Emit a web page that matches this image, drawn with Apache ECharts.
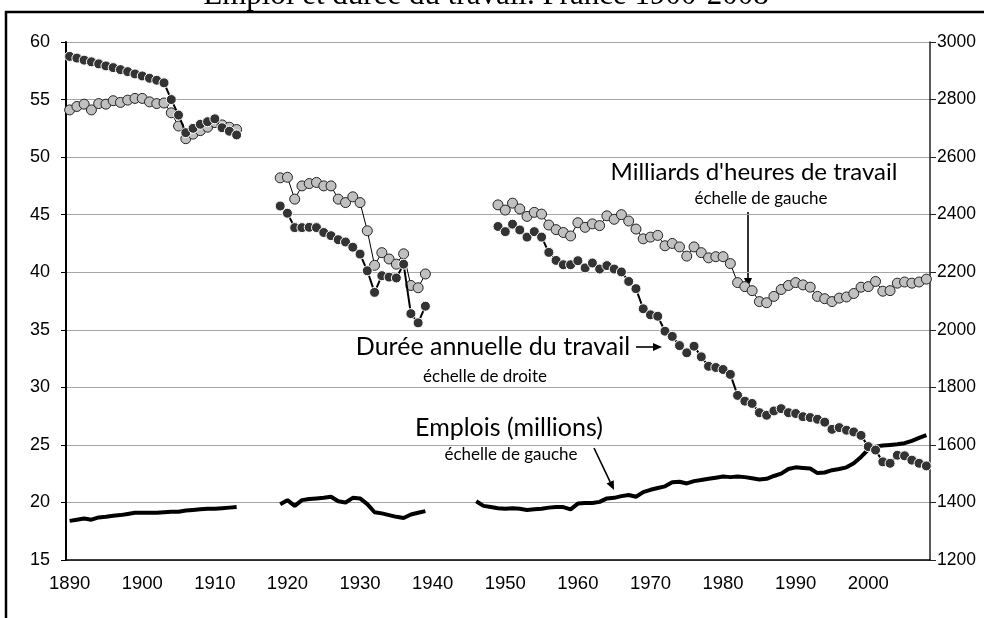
<!DOCTYPE html>
<html>
<head>
<meta charset="utf-8">
<script src="https://cdn.jsdelivr.net/npm/echarts@6/dist/echarts.min.js"></script>
<style>
  html, body { margin: 0; padding: 0; background: #fff; }
  #chart { width: 984px; height: 618px; }
</style>
</head>
<body>
<div id="chart"></div>
<script>
// années 1890-2008 (axe des catégories)
const firstYear = 1890
const lastYear = 2008

// Milliards d'heures de travail (échelle de gauche)
const heures1890 = [54.1, 54.4, 54.6, 54.1, 54.65, 54.6, 54.9, 54.75, 54.95, 55.1, 55.1, 54.8, 54.65, 54.7,
  53.85, 52.7, 51.6, 52.0, 52.3, 52.6, 53.0, 52.8, 52.6, 52.4]
const heures1919 = [48.2, 48.25, 46.35, 47.5, 47.7, 47.8, 47.5, 47.5, 46.35, 46.05, 46.55, 46.05, 43.6,
  40.6, 41.7, 41.15, 40.7, 41.6, 38.85, 38.65, 39.85]
const heures1949 = [45.85, 45.4, 46.0, 45.5, 44.85, 45.2, 45.05, 44.1, 43.7, 43.45,
  43.15, 44.3, 43.9, 44.2, 44.05, 44.9, 44.6, 45.0, 44.45, 43.75,
  42.9, 43.05, 43.2, 42.3, 42.5, 42.2, 41.4, 42.2, 41.7, 41.25,
  41.35, 41.35, 40.75, 39.1, 38.75, 38.4, 37.45, 37.35, 37.9, 38.5,
  38.85, 39.1, 38.9, 38.7, 37.9, 37.7, 37.45, 37.75, 37.85, 38.15,
  38.7, 38.75, 39.2, 38.35, 38.4, 39.05, 39.15, 39.05, 39.15, 39.4]

// Durée annuelle du travail, heures (échelle de droite)
const duree1890 = [2950, 2944, 2937, 2931, 2924, 2917, 2911, 2904, 2897, 2889, 2882, 2874, 2867, 2858,
  2800, 2746, 2685, 2700, 2714, 2723, 2733, 2702, 2690, 2677]
const duree1919 = [2430, 2405, 2355, 2355, 2356, 2355, 2338, 2327, 2313, 2305, 2287, 2263, 2205,
  2130, 2188, 2183, 2180, 2228, 2056, 2024, 2082]
const duree1949 = [2359, 2341, 2367, 2347, 2322, 2341, 2322, 2269, 2241, 2226,
  2226, 2240, 2215, 2232, 2211, 2223, 2211, 2201, 2168, 2143,
  2073, 2052, 2047, 1995, 1977, 1945, 1920, 1943, 1906, 1873,
  1869, 1862, 1845, 1772, 1752, 1744, 1712, 1703, 1718, 1726,
  1712, 1709, 1698, 1695, 1689, 1679, 1654, 1660, 1651, 1645,
  1633, 1594, 1582, 1541, 1536, 1564, 1562, 1547, 1536, 1527]

// Emplois, millions (échelle de gauche)
const emplois1890 = [18.4, 18.5, 18.6, 18.5, 18.7, 18.75, 18.85, 18.9, 19.0, 19.1, 19.1, 19.1, 19.1,
  19.15, 19.2, 19.2, 19.3, 19.35, 19.4, 19.45, 19.45, 19.5, 19.55, 19.6]
const emplois1919 = [19.85, 20.2, 19.7, 20.2, 20.3, 20.35, 20.4, 20.5, 20.1, 20.0, 20.4, 20.35, 19.85,
  19.15, 19.05, 18.9, 18.75, 18.65, 18.95, 19.1, 19.25]
const emplois1946 = [20.1, 19.7, 19.6, 19.5, 19.45, 19.5, 19.45, 19.35, 19.4, 19.45,
  19.55, 19.6, 19.6, 19.4, 19.9, 19.95, 19.95, 20.05, 20.35, 20.4,
  20.55, 20.65, 20.5, 20.9, 21.1, 21.25, 21.4, 21.75, 21.8, 21.65,
  21.85, 21.95, 22.05, 22.15, 22.25, 22.2, 22.25, 22.2, 22.1, 22.0,
  22.05, 22.3, 22.5, 22.9, 23.05, 23.0, 22.95, 22.55, 22.6, 22.8,
  22.9, 23.05, 23.4, 23.95, 24.6, 24.85, 24.95, 25.0, 25.05, 25.15,
  25.35, 25.6, 25.85]

const years = []
for (let y = firstYear; y <= lastYear; y++) years.push(String(y))

// place les périodes sur l'axe complet, null = trou (guerres)
const buildSeries = (pieces) => {
  const out = years.map(() => null)
  pieces.forEach(([start, values]) => {
    values.forEach((v, i) => { out[start - firstYear + i] = v })
  })
  return out
}

const heures = buildSeries([[1890, heures1890], [1919, heures1919], [1949, heures1949]])
const duree = buildSeries([[1890, duree1890], [1919, duree1919], [1949, duree1949]])
const emplois = buildSeries([[1890, emplois1890], [1919, emplois1919], [1946, emplois1946]])

const axisFont = 'Liberation Sans, Arial, sans-serif'
const noteFont = 'Lato, Calibri, sans-serif'

const label = (text, x, y, size) => ({
  type: 'text',
  x: x,
  y: y,
  silent: true,
  style: { text: text, font: size + 'px ' + noteFont, fill: '#000', textAlign: 'center', textVerticalAlign: 'middle' }
})

const arrow = (x1, y1, x2, y2) => {
  const a = Math.atan2(y2 - y1, x2 - x1)
  const len = 9
  const w = 4
  const bx = x2 - len * Math.cos(a)
  const by = y2 - len * Math.sin(a)
  return [
    { type: 'line', silent: true, shape: { x1: x1, y1: y1, x2: bx, y2: by }, style: { stroke: '#000', lineWidth: 1.6 } },
    {
      type: 'polygon',
      silent: true,
      shape: {
        points: [[x2, y2], [bx + w * Math.sin(a), by - w * Math.cos(a)], [bx - w * Math.sin(a), by + w * Math.cos(a)]]
      },
      style: { fill: '#000' }
    }
  ]
}

const chart = echarts.init(document.getElementById('chart'))

const option = {
  animation: false,
  grid: { left: 66, right: 54, top: 42, bottom: 58 },
  xAxis: {
    type: 'category',
    data: years,
    boundaryGap: true,
    axisLine: { lineStyle: { color: '#000', width: 1.5 } },
    axisTick: { interval: 4, length: 6, lineStyle: { color: '#000', width: 1 } },
    axisLabel: { interval: 9, color: '#000', fontSize: 18.5, fontFamily: axisFont, margin: 14 },
    splitLine: { show: false }
  },
  yAxis: [
    {
      type: 'value',
      min: 15,
      max: 60,
      interval: 5,
      axisLine: { show: true, lineStyle: { color: '#000', width: 2 } },
      axisTick: { show: true, length: 5, lineStyle: { color: '#000' } },
      axisLabel: { color: '#000', fontSize: 18, fontFamily: axisFont, margin: 16 },
      splitLine: { show: true, lineStyle: { color: '#a6a6a6', width: 1 } }
    },
    {
      type: 'value',
      position: 'right',
      min: 1200,
      max: 3000,
      interval: 200,
      axisLine: { show: true, lineStyle: { color: '#222', width: 1.5 } },
      axisTick: { show: true, length: 6, lineStyle: { color: '#222' } },
      axisLabel: { color: '#000', fontSize: 17.5, fontFamily: axisFont, margin: 7, formatter: (v) => String(v) },
      splitLine: { show: false }
    }
  ],
  series: [
    {
      name: 'Emplois (millions)',
      type: 'line',
      yAxisIndex: 0,
      data: emplois,
      showSymbol: false,
      connectNulls: false,
      lineStyle: { color: '#000', width: 4 },
      z: 2
    },
    {
      name: "Milliards d'heures de travail",
      type: 'line',
      yAxisIndex: 0,
      data: heures,
      symbol: 'circle',
      symbolSize: 10,
      showAllSymbol: true,
      connectNulls: false,
      itemStyle: { color: '#c0c0c0', borderColor: '#222', borderWidth: 1 },
      lineStyle: { color: '#000', width: 1 },
      z: 3
    },
    {
      name: 'Durée annuelle du travail',
      type: 'line',
      yAxisIndex: 1,
      data: duree,
      symbol: 'circle',
      symbolSize: 10,
      showAllSymbol: true,
      connectNulls: false,
      itemStyle: { color: '#333333', borderColor: '#ffffff', borderWidth: 1 },
      lineStyle: { color: '#000', width: 2 },
      z: 4
    }
  ],
  graphic: [
    {
      type: 'rect',
      silent: true,
      shape: { x: 6, y: 12, width: 1000, height: 700 },
      style: { fill: null, stroke: '#000', lineWidth: 2.5 }
    },
    {
      type: 'text',
      x: 486,
      y: -4,
      silent: true,
      style: {
        text: 'Emploi et durée du travail. France 1900-2008',
        font: '31px "Liberation Serif", "Times New Roman", serif',
        fill: '#000',
        textAlign: 'center',
        textVerticalAlign: 'middle'
      }
    },
    label("Milliards d'heures de travail", 754, 172, 24),
    label('échelle de gauche', 761, 199, 17),
    ...arrow(748, 212, 748, 287),
    label('Durée annuelle du travail', 493, 347, 25),
    label('échelle de droite', 485, 377, 17),
    ...arrow(636, 347, 662, 347),
    label('Emplois (millions)', 509, 428, 25),
    label('échelle de gauche', 511, 455, 17),
    ...arrow(594, 448, 614, 490)
  ]
}

chart.setOption(option)
</script>
</body>
</html>
